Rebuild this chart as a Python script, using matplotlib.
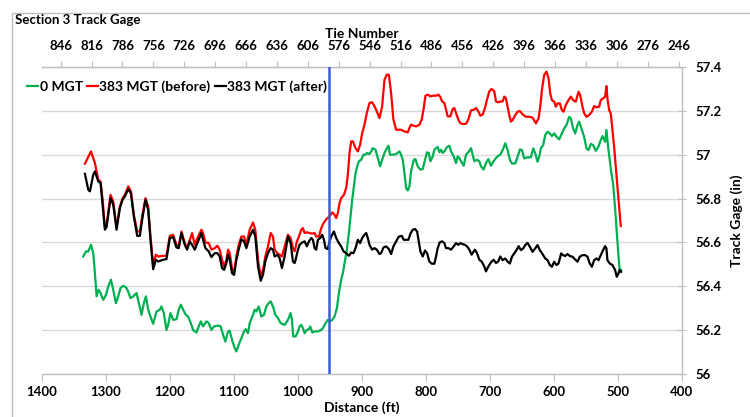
import matplotlib
matplotlib.use("Agg")
import matplotlib.pyplot as plt
from matplotlib.patches import Rectangle
from matplotlib.lines import Line2D
from matplotlib.ticker import FuncFormatter

plt.rcParams['font.family'] = ['Lato', 'DejaVu Sans']
plt.rcParams['font.weight'] = 'bold'

series_labels = ["0 MGT", "383 MGT (before)", "383 MGT (after)"]
series_colors = ["#00B050", "#FF0000", "#000000"]

# ---------------- 0 MGT (green) ----------------
green_dist = [
    1335.5, 1331.3, 1327.7, 1323.5, 1319.9, 1317.3, 1314.7, 1311.6, 1308.5, 1304.3,
    1300.1, 1296.5, 1292.3, 1288.7, 1284.5, 1280.9, 1277.3, 1273.1, 1268.9, 1265.3,
    1261.7, 1257.5, 1252.3, 1248.1, 1244.5, 1240.9, 1237.7, 1234.1, 1230.5, 1226.3,
    1221.1, 1215.9, 1213.3, 1209.7, 1205.5, 1202.9, 1199.3, 1195.1, 1189.9, 1186.3,
    1183.1, 1179.5, 1175.3,
    1171.7, 1167.5, 1163.9, 1158.7, 1155.1, 1151.9, 1148.3, 1143.1, 1139.5, 1135.3,
    1131.1, 1124.9, 1120.7, 1117.1, 1113.5, 1109.3, 1106.7, 1103.1, 1098.9, 1096.3,
    1092.7, 1088.5, 1084.3, 1081.7, 1078.1, 1075.5, 1070.3, 1067.7, 1065.1, 1061.5,
    1057.3, 1053.1, 1049.5, 1045.9, 1042.7, 1039.1, 1035.5, 1031.3, 1027.1, 1020.9,
    1015.7, 1011.5, 1009.4, 1007.4, 1005.3,
    1003.7, 1000.1, 997.5, 994.9, 992.3, 989.7, 986.1, 982.9, 980.9, 977.7,
    974.1, 968.9, 963.7, 961.1, 956.9, 953.3, 949.7, 946.5, 942.9, 939.3,
    936.1, 932.5, 929.9, 927.3, 923.7, 920.5, 917.9, 915.3, 912.7, 910.1,
    907.5, 904.9, 901.3, 897.7, 894.5, 891.9, 888.3, 885.7, 883.1, 878.9,
    875.3, 871.7, 868.5, 864.9, 862.3, 858.7, 856.1, 851.9, 846.7, 841.5,
    838.9, 836.3, 833.7, 831.1, 828.5, 825.9, 823.3, 819.1, 816.5, 812.9,
    808.7, 805.1, 801.5, 798.3, 795.7, 793.1, 789.5, 786.9, 784.3, 781.7,
    779.1, 776.5, 773.9, 771.3, 767.1, 763.5, 760.9, 756.7, 753.1, 750.5,
    747.9, 745.3, 741.1, 737.5, 733.9, 729.7, 727.1, 724.5, 720.3, 716.7,
    714.1, 709.9, 706.3, 702.7, 698.5, 694.3, 690.7, 687.1, 683.9,
    680.3, 676.1, 672.5, 668.9, 665.7, 660.5, 656.9, 653.3, 650.1, 646.5,
    641.3, 636.1, 632.5, 629.3, 625.7, 623.1, 620.5, 616.9, 613.7, 610.1,
    606.5, 603.3, 599.7, 596.1, 591.9, 587.7, 584.1, 580.5, 576.3, 573.7,
    570.1, 566.9, 563.3, 560.7, 556.5, 552.9, 549.3, 546.1, 542.5, 538.9,
    534.7, 530.5, 526.9, 524.3, 520.1, 518.1, 515.5, 512.9, 510.3, 507.7,
    505.1, 502.5, 499.9, 497.3, 495.2,
]
green_gage = [
    56.536, 56.559, 56.559, 56.589, 56.551, 56.460, 56.354, 56.384, 56.369, 56.338,
    56.361, 56.399, 56.430, 56.384, 56.323, 56.354, 56.392, 56.402, 56.396, 56.376,
    56.346, 56.354, 56.369, 56.316, 56.270, 56.323, 56.354, 56.293, 56.262, 56.229,
    56.285, 56.293, 56.308, 56.278, 56.201, 56.224, 56.278, 56.247, 56.250, 56.293,
    56.316, 56.293, 56.270,
    56.262, 56.232, 56.201, 56.189, 56.217, 56.240, 56.217, 56.240, 56.232, 56.201,
    56.217, 56.221, 56.217, 56.179, 56.148, 56.194, 56.197, 56.156, 56.118, 56.103,
    56.133, 56.163, 56.194, 56.205, 56.186, 56.232, 56.270, 56.293, 56.285, 56.308,
    56.262, 56.270, 56.308, 56.323, 56.331, 56.308, 56.270, 56.255, 56.232, 56.224,
    56.247, 56.278, 56.247, 56.171, 56.171,
    56.171, 56.194, 56.217, 56.224, 56.209, 56.186, 56.201, 56.205, 56.217, 56.189,
    56.194, 56.194, 56.201, 56.209, 56.232, 56.247, 56.240, 56.247, 56.262, 56.300,
    56.369, 56.430, 56.460, 56.506, 56.567, 56.643, 56.719, 56.795, 56.856, 56.916,
    56.947, 56.970, 56.977, 57.000, 57.000, 57.008, 57.003, 57.015, 57.030, 57.023,
    56.985, 56.947, 56.977, 57.008, 57.023, 57.041, 57.000, 57.000, 57.003, 57.015,
    57.000, 56.977, 56.916, 56.848, 56.837, 56.856, 56.924, 56.977, 56.980, 56.947,
    56.932, 56.935, 56.977, 57.011, 57.008, 56.970, 56.992, 57.023, 57.030, 57.035,
    57.011, 57.023, 57.008, 57.015, 57.035, 57.041, 57.015, 56.992, 56.962, 56.992,
    56.985, 56.970, 56.950, 57.000, 57.011, 57.030, 57.000, 56.970, 56.977, 56.970,
    56.947, 56.932, 56.962, 56.980, 56.950, 56.970, 56.985, 56.995, 57.000,
    57.021, 57.052, 57.021, 56.976, 56.960, 56.960, 56.991, 57.024, 57.021, 56.983,
    56.988, 56.988, 57.029, 57.006, 56.968, 56.991, 57.029, 57.044, 57.090, 57.105,
    57.097, 57.085, 57.097, 57.082, 57.070, 57.097, 57.120, 57.135, 57.173, 57.166,
    57.120, 57.097, 57.135, 57.151, 57.113, 57.082, 57.029, 57.021, 57.049, 57.044,
    57.018, 57.037, 57.067, 57.085, 57.059, 57.113, 57.037, 56.976, 56.915, 56.869,
    56.778, 56.671, 56.565, 56.466, 56.474,
]

# ---------------- 383 MGT before (red) ----------------
red_dist = [
    1332.9, 1323.5, 1317.3, 1312.1, 1308.5, 1305.3, 1301.7, 1299.1, 1292.9, 1288.7,
    1283.5, 1278.3, 1274.1, 1270.5, 1265.3, 1261.1, 1256.5, 1251.3, 1247.1, 1243.5,
    1238.3, 1234.1, 1230.5, 1226.3, 1222.1, 1218.5, 1210.7, 1205.5, 1200.3, 1195.1,
    1189.9, 1186.3, 1182.1, 1176.9, 1173.3,
    1169.1, 1165.5, 1161.3, 1156.1, 1150.9, 1148.3, 1144.7, 1139.5, 1135.3, 1130.1,
    1126.0, 1122.3, 1118.7, 1115.5, 1111.9, 1109.3, 1106.7, 1103.1, 1099.9, 1096.3,
    1092.7, 1088.5, 1084.3, 1080.7, 1075.5, 1070.3, 1066.7, 1062.5, 1058.3, 1054.7,
    1051.1, 1046.9, 1042.7, 1039.1, 1036.5, 1032.3, 1028.7, 1025.1, 1020.9, 1015.7,
    1011.5, 1007.9, 1005.3,
    1001.7, 998.5, 994.9, 992.3, 989.7, 986.1, 981.9, 977.7, 974.1, 971.5,
    967.3, 963.7, 960.1, 955.9, 950.7, 946.5, 942.9, 940.3, 937.7, 935.1,
    932.5, 928.3, 924.7, 922.1, 919.5, 916.9, 914.3, 910.1, 906.5, 902.9,
    899.7, 896.1, 892.5, 888.3, 884.1, 880.5, 876.9, 872.7, 868.5, 864.9,
    861.3, 858.1, 854.5, 850.9, 846.7, 841.5,
    838.9, 833.7, 828.5, 825.9, 823.3, 819.1, 815.5, 810.3, 806.7, 803.5,
    800.9, 797.3, 793.1, 789.5, 784.3, 780.7, 777.5, 774.9, 771.3, 768.7,
    766.1, 761.9, 758.3, 755.7, 753.1, 749.5, 746.3, 742.7, 737.5, 733.9,
    729.7, 725.5, 721.9, 718.3, 715.1, 711.5, 707.9, 704.7, 701.1, 697.5,
    693.3, 690.7, 687.1, 682.9, 680.3,
    677.7, 675.1, 672.5, 669.9, 667.3, 664.7, 660.5, 656.9, 653.3, 649.1,
    643.9, 638.7, 633.5, 628.3, 624.1, 621.5, 618.9, 615.3, 611.7, 608.5,
    605.9, 603.3, 599.7, 597.1, 594.5, 590.9, 587.7, 585.1, 581.5, 577.3,
    573.7, 570.1, 565.9, 561.7, 559.1, 555.5, 552.9, 549.3, 545.1, 540.9,
    537.3, 533.7, 529.5, 526.9, 523.3, 520.1, 518.1, 516.5, 513.9, 511.3,
    508.7, 506.1, 503.5, 500.9, 498.3, 495.7,
]
red_gage = [
    56.959, 57.015, 56.962, 56.886, 56.878, 56.795, 56.665, 56.681, 56.817, 56.787,
    56.670, 56.764, 56.802, 56.817, 56.856, 56.833, 56.726, 56.650, 56.650, 56.719,
    56.802, 56.764, 56.627, 56.498, 56.544, 56.536, 56.539, 56.539, 56.630, 56.635,
    56.589, 56.582, 56.650, 56.597, 56.574,
    56.612, 56.643, 56.589, 56.627, 56.658, 56.643, 56.600, 56.597, 56.567, 56.574,
    56.585, 56.567, 56.521, 56.490, 56.521, 56.567, 56.551, 56.483, 56.460, 56.536,
    56.589, 56.627, 56.627, 56.589, 56.658, 56.691, 56.658, 56.521, 56.445, 56.475,
    56.536, 56.582, 56.643, 56.627, 56.567, 56.551, 56.544, 56.536, 56.582, 56.635,
    56.620, 56.574, 56.559,
    56.605, 56.627, 56.658, 56.665, 56.643, 56.646, 56.643, 56.640, 56.643, 56.627,
    56.627, 56.665, 56.688, 56.706, 56.719, 56.737, 56.726, 56.711, 56.734, 56.779,
    56.802, 56.817, 56.848, 56.909, 57.008, 57.061, 57.061, 57.030, 57.015, 57.046,
    57.099, 57.137, 57.190, 57.236, 57.239, 57.221, 57.198, 57.167, 57.221, 57.342,
    57.365, 57.365, 57.281, 57.160, 57.114, 57.114,
    57.114, 57.106, 57.102, 57.122, 57.137, 57.132, 57.129, 57.137, 57.160, 57.213,
    57.269, 57.274, 57.266, 57.269, 57.269, 57.274, 57.263, 57.243, 57.236, 57.205,
    57.175, 57.175, 57.208, 57.213, 57.190, 57.160, 57.144, 57.140, 57.141, 57.160,
    57.202, 57.205, 57.213, 57.198, 57.178, 57.183, 57.213, 57.251, 57.289, 57.300,
    57.289, 57.243, 57.239, 57.243, 57.243,
    57.265, 57.257, 57.219, 57.181, 57.151, 57.158, 57.181, 57.196, 57.199, 57.184,
    57.173, 57.173, 57.169, 57.143, 57.166, 57.219, 57.295, 57.364, 57.379, 57.348,
    57.280, 57.249, 57.242, 57.219, 57.234, 57.234, 57.204, 57.196, 57.227, 57.249,
    57.265, 57.249, 57.242, 57.287, 57.272, 57.219, 57.189, 57.173, 57.181, 57.196,
    57.222, 57.216, 57.219, 57.249, 57.257, 57.265, 57.313, 57.257, 57.204, 57.189,
    57.113, 57.037, 56.945, 56.854, 56.763, 56.675,
]

# ---------------- 383 MGT after (black) ----------------
black_dist = [
    1332.9, 1327.7, 1325.1, 1319.9, 1317.3, 1312.1, 1308.5, 1305.3, 1301.7, 1299.1,
    1292.9, 1288.7, 1283.5, 1278.3, 1274.1, 1270.5, 1265.3, 1261.1, 1256.5, 1251.3,
    1247.1, 1243.5, 1238.3, 1234.1, 1230.5, 1226.3, 1222.1, 1218.5, 1210.7, 1205.5,
    1200.3, 1195.1, 1189.9, 1186.3, 1182.1, 1176.9, 1173.3,
    1169.1, 1165.5, 1161.3, 1156.1, 1150.9, 1148.3, 1144.7, 1139.5, 1135.3, 1130.1,
    1126.0, 1122.3, 1118.7, 1115.5, 1111.9, 1109.3, 1106.7, 1103.1, 1099.9, 1096.3,
    1092.7, 1088.5, 1084.3, 1080.7, 1075.5, 1070.3, 1066.7, 1062.5, 1058.3, 1054.7,
    1051.1, 1046.9, 1042.7, 1039.1, 1036.5, 1032.3, 1028.7, 1025.1, 1020.9, 1015.7,
    1011.5, 1007.9, 1005.3,
    1003.7, 1000.1, 997.5, 993.3, 989.7, 986.1, 982.9, 979.3, 976.7, 974.1,
    971.5, 968.9, 965.3, 962.1, 959.5, 956.9, 953.3, 950.7, 948.1, 943.9,
    940.3, 936.1, 932.5, 928.9, 924.7, 920.5, 916.9, 913.3, 910.1, 906.5,
    902.9, 899.7, 896.1, 893.5, 890.9, 888.3, 884.1, 880.5, 876.9, 872.7,
    870.1, 866.5, 862.3, 858.1, 854.5, 850.9, 846.7, 842.5,
    841.5, 837.9, 834.7, 831.1, 827.5, 824.3, 820.7, 817.1, 813.9, 811.3,
    808.7, 805.1, 801.5, 798.3, 794.7, 791.1, 786.9, 784.3, 781.7, 778.6,
    774.9, 771.3, 768.7, 765.1, 760.9, 756.7, 753.1, 749.5, 746.3, 742.7,
    739.1, 735.9, 732.3, 728.7, 725.5, 723.5, 720.3, 716.7, 713.1, 708.9,
    706.3, 702.7, 698.5, 694.3, 690.7, 687.1, 683.9,
    680.3, 676.1, 672.5, 668.9, 665.7, 662.1, 658.5, 655.3, 651.7, 648.1,
    644.9, 641.3, 637.7, 633.5, 629.3, 625.7, 622.1, 617.9, 613.7, 610.1,
    606.5, 603.3, 599.7, 596.1, 592.9, 590.9, 588.8, 585.7, 582.5, 578.9,
    575.3, 571.1, 566.9, 563.3, 559.7, 555.5, 551.3, 547.7, 544.1, 540.9,
    537.3, 533.7, 530.5, 526.9, 523.3, 520.1, 518.1, 516.5, 512.9, 508.7,
    504.5, 501.9, 499.3, 497.3, 495.2,
]
black_gage = [
    56.913, 56.840, 56.833, 56.909, 56.924, 56.878, 56.871, 56.772, 56.658, 56.670,
    56.802, 56.772, 56.658, 56.757, 56.795, 56.810, 56.843, 56.825, 56.719, 56.630,
    56.630, 56.703, 56.795, 56.749, 56.612, 56.478, 56.521, 56.513, 56.521, 56.524,
    56.620, 56.624, 56.577, 56.574, 56.643, 56.589, 56.567,
    56.605, 56.589, 56.567, 56.605, 56.643, 56.612, 56.574, 56.559, 56.533, 56.551,
    56.551, 56.536, 56.483, 56.475, 56.506, 56.544, 56.521, 56.460, 56.452, 56.521,
    56.567, 56.615, 56.605, 56.574, 56.627, 56.658, 56.627, 56.490, 56.425, 56.452,
    56.513, 56.551, 56.574, 56.567, 56.536, 56.544, 56.528, 56.483, 56.536, 56.627,
    56.597, 56.513, 56.506,
    56.521, 56.567, 56.589, 56.600, 56.605, 56.582, 56.605, 56.620, 56.612, 56.574,
    56.567, 56.612, 56.620, 56.635, 56.612, 56.574, 56.570, 56.605, 56.627, 56.650,
    56.620, 56.597, 56.582, 56.559, 56.551, 56.539, 56.554, 56.551, 56.574, 56.612,
    56.597, 56.620, 56.635, 56.643, 56.620, 56.589, 56.567, 56.574, 56.567, 56.547,
    56.551, 56.577, 56.582, 56.570, 56.547, 56.582, 56.605, 56.627,
    56.627, 56.630, 56.612, 56.612, 56.612, 56.640, 56.658, 56.661, 56.650, 56.605,
    56.559, 56.536, 56.563, 56.551, 56.513, 56.503, 56.503, 56.536, 56.574, 56.600,
    56.605, 56.597, 56.574, 56.574, 56.567, 56.582, 56.597, 56.589, 56.597, 56.592,
    56.589, 56.582, 56.567, 56.544, 56.559, 56.567, 56.551, 56.521, 56.513, 56.490,
    56.468, 56.490, 56.509, 56.521, 56.506, 56.513, 56.536,
    56.519, 56.527, 56.512, 56.504, 56.535, 56.550, 56.565, 56.583, 56.565, 56.573,
    56.588, 56.598, 56.580, 56.557, 56.573, 56.588, 56.565, 56.547, 56.527, 56.519,
    56.497, 56.489, 56.512, 56.497, 56.504, 56.527, 56.550, 56.542, 56.538, 56.547,
    56.538, 56.535, 56.522, 56.512, 56.535, 56.542, 56.542, 56.535, 56.504, 56.489,
    56.519, 56.527, 56.519, 56.542, 56.565, 56.583, 56.573, 56.519, 56.504, 56.497,
    56.474, 56.443, 56.459, 56.474, 56.466,
]

marker_dist = 952          # vertical blue reference line (ft)
x_ticks = [1400, 1300, 1200, 1100, 1000, 900, 800, 700, 600, 500, 400]
y_ticks = [56.0, 56.2, 56.4, 56.6, 56.8, 57.0, 57.2, 57.4]
tie_ticks = [846, 816, 786, 756, 726, 696, 666, 636, 606, 576, 546,
             516, 486, 456, 426, 396, 366, 336, 306, 276, 246]
# tie number <-> distance relation
TIE_REF, DIST_REF, FT_PER_TIE = 246, 405.2, 1.6093

for d, g in [(green_dist, green_gage), (red_dist, red_gage), (black_dist, black_gage)]:
    assert len(d) == len(g), (len(d), len(g))

W, H = 750, 417
fig = plt.figure(figsize=(W / 100, H / 100), dpi=100)
ax = fig.add_axes([42 / W, 1 - 374 / H, 640 / W, 307 / H])

grid_c = "#D9D9D9"
spine_c = "#BFBFBF"
tick_fs = 9.5
title_fs = 10

for (dist, gage), lab, col in zip([(green_dist, green_gage), (red_dist, red_gage),
                                    (black_dist, black_gage)], series_labels, series_colors):
    ax.plot(dist, gage, color=col, lw=1.6, label=lab, zorder=3)

ax.axvline(marker_dist, color="#3A5BD9", lw=1.8, zorder=4)

ax.set_xlim(1400, 400)
ax.set_ylim(56.0, 57.4)
ax.set_xticks(x_ticks)
ax.set_yticks(y_ticks)
ax.yaxis.set_major_formatter(FuncFormatter(lambda v, p: f"{v:g}"))
ax.yaxis.tick_right()
ax.yaxis.set_label_position("right")
ax.grid(axis="y", color=grid_c, lw=1.0, zorder=0)
ax.set_axisbelow(True)

ax.spines["left"].set_visible(False)
for s in ["right", "bottom", "top"]:
    ax.spines[s].set_color(spine_c)
    ax.spines[s].set_linewidth(1.0)

ax.tick_params(axis="x", direction="out", length=5, color=spine_c, pad=4,
               labelsize=tick_fs, labelcolor="black")
ax.tick_params(axis="y", direction="inout", length=6, color=spine_c, pad=7,
               labelsize=tick_fs, labelcolor="black")
ax.set_xlabel("Distance (ft)", fontsize=title_fs, fontweight="bold", labelpad=2)
ax.set_ylabel("Track Gage (in)", fontsize=title_fs, fontweight="bold", labelpad=6)


def d2t(d):
    return TIE_REF + (d - DIST_REF) / FT_PER_TIE


def t2d(t):
    return DIST_REF + (t - TIE_REF) * FT_PER_TIE


sec = ax.secondary_xaxis("top", functions=(d2t, t2d))
sec.set_xticks(tie_ticks)
sec.set_xticklabels([str(t) for t in tie_ticks])
sec.tick_params(axis="x", direction="out", length=4, color=spine_c, pad=7,
                labelsize=tick_fs)
sec.spines["top"].set_color(spine_c)
sec.set_xlabel("Tie Number", fontsize=title_fs, fontweight="bold", labelpad=1)

handles = [Line2D([], [], color=c, lw=1.6) for c in series_colors]
fig.legend(handles, series_labels, loc="center left",
           bbox_to_anchor=(27 / W, 1 - 87 / H), bbox_transform=fig.transFigure,
           ncol=3, frameon=False, handlelength=0.8, handletextpad=0.1,
           columnspacing=0.3, borderpad=0, borderaxespad=0,
           prop={"size": 10, "weight": "bold"})

fig.text(15 / W, 1 - 20 / H, "Section 3 Track Gage", fontsize=9.5,
         fontweight="bold", va="center", ha="left")

fig.patches.append(Rectangle((12 / W, -0.05), 1.0, 1 - 13 / H + 0.05,
                             transform=fig.transFigure, fill=False,
                             edgecolor=spine_c, lw=1.0))

fig.savefig("out.png", dpi=100)
